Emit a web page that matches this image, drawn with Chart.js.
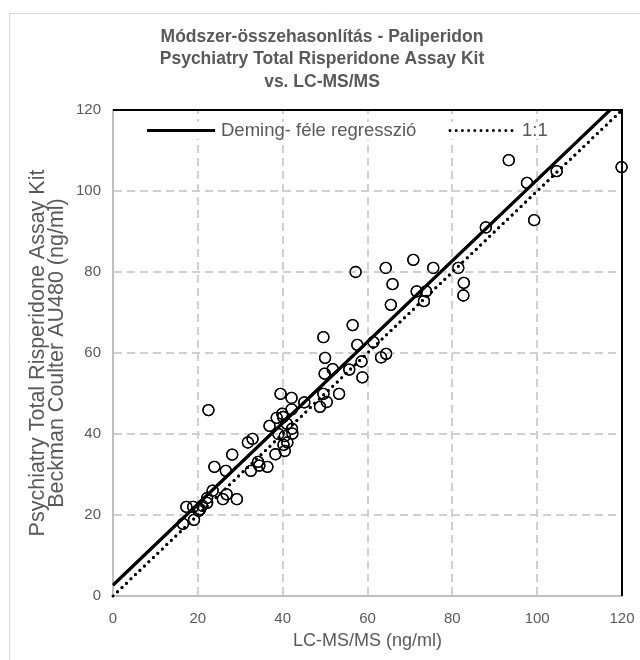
<!DOCTYPE html>
<html>
<head>
<meta charset="utf-8">
<script src="https://cdn.jsdelivr.net/npm/chart.js@4/dist/chart.umd.min.js"></script>
<style>
  html, body { margin: 0; padding: 0; background: #fff; }
  #wrap { width: 640px; height: 660px; position: relative; }
</style>
</head>
<body>
<div id="wrap"><canvas id="c" width="640" height="660"></canvas></div>
<script>
// ---- data ----
const lcms = [93.3,119.9,97.6,104.6,99.3,87.9,70.8,64.3,75.5,81.4,57.2,65.9,82.7,71.6,73.8,82.6,73.3,65.5,
  56.5,49.6,57.6,61.4,50.0,63.2,64.4,51.8,55.7,58.6,49.9,58.8,53.3,49.6,48.8,50.4,45.1,39.5,42.1,22.5,
  42.1,39.9,38.6,40.1,36.9,41.0,42.2,39.0,42.3,40.5,41.1,40.2,38.3,40.5,32.9,31.8,28.1,34.2,34.5,36.4,
  32.5,23.9,26.6,23.5,26.8,25.9,29.2,22.2,22.2,17.3,18.9,20.5,20.2,19.1,16.5,21.0];
const kit = [107.6,105.9,102.0,104.9,92.8,91.0,83.0,81.0,81.0,81.0,80.0,77.0,77.3,75.2,75.2,74.2,72.8,71.9,
  66.9,63.9,62.0,62.7,58.8,58.9,59.8,56.0,55.9,57.9,54.9,54.0,49.9,49.9,46.7,47.9,47.8,49.9,48.9,45.9,
  46.1,45.0,44.0,44.2,42.0,42.5,41.3,40.0,40.1,39.5,37.9,37.3,35.0,35.8,38.8,37.9,34.9,33.1,32.2,31.9,
  30.9,31.9,30.9,26.0,25.1,23.9,23.9,24.2,23.0,22.0,22.0,21.4,21.0,18.8,17.8,22.3];
const demingX = [0, 117.2];
const demingY = [2.7, 120];
const identityX = [0, 120];
const identityY = [0, 120];
const axisTicks = [0, 20, 40, 60, 80, 100, 120];
const titleLines = ['Módszer-összehasonlítás - Paliperidon', 'Psychiatry Total Risperidone Assay Kit', 'vs. LC-MS/MS'];
const yTitleLines = ['Psychiatry Total Risperidone Assay Kit', 'Beckman Coulter AU480 (ng/ml)'];
const xTitle = 'LC-MS/MS (ng/ml)';
const legendLabels = ['Deming- féle regresszió', '1:1'];

const FONT = "'Liberation Sans', Arial, sans-serif";
const GREY = '#595959';

const pts = lcms.map((x, i) => ({x: x, y: kit[i]}));
const demingPts = demingX.map((x, i) => ({x: x, y: demingY[i]}));
const idPts = identityX.map((x, i) => ({x: x, y: identityY[i]}));

function drawGridLines(chart) {
  const ctx = chart.ctx;
  const a = chart.chartArea;
  const xs = chart.scales.x, ys = chart.scales.y;
  ctx.save();
  ctx.globalCompositeOperation = 'source-over';
  ctx.globalAlpha = 1;
  ctx.strokeStyle = '#d0d0d0';
  ctx.lineWidth = 2;
  ctx.lineCap = 'butt';
  ctx.setLineDash([8, 5]);
  for (const v of axisTicks) {
    if (v <= 0 || v >= 120) continue;
    const px = Math.round(xs.getPixelForValue(v));
    ctx.beginPath(); ctx.moveTo(px, a.bottom - 1); ctx.lineTo(px, a.top + 1); ctx.stroke();
    const py = Math.round(ys.getPixelForValue(v));
    ctx.beginPath(); ctx.moveTo(a.left + 1, py); ctx.lineTo(a.right - 1, py); ctx.stroke();
  }
  ctx.restore();
}

// redraw the datasets through their own controllers so they sit above the grid
function redrawDatasets(chart) {
  const metas = chart.getSortedVisibleDatasetMetas();
  for (let i = metas.length - 1; i >= 0; --i) {
    chart.ctx.save();
    metas[i].controller.draw();
    chart.ctx.restore();
  }
}

function drawLegend(chart) {
  const ctx = chart.ctx;
  const ly = 130.5;
  ctx.save();
  ctx.fillStyle = '#fff';
  ctx.fillRect(140, 122, 420, 17);
  ctx.strokeStyle = '#000';
  ctx.lineWidth = 3;
  ctx.beginPath(); ctx.moveTo(147, ly); ctx.lineTo(215, ly); ctx.stroke();
  ctx.setLineDash([0, 6.2]);
  ctx.lineCap = 'round';
  ctx.beginPath(); ctx.moveTo(450, ly); ctx.lineTo(512, ly); ctx.stroke();
  ctx.setLineDash([]);
  ctx.fillStyle = GREY;
  ctx.font = "18.5px " + FONT;
  ctx.textBaseline = 'middle';
  ctx.textAlign = 'left';
  ctx.fillText(legendLabels[0], 221, ly);
  ctx.fillText(legendLabels[1], 522, ly);
  ctx.restore();
}

const framePlugin = {
  id: 'frame',
  beforeDraw(chart) {
    const ctx = chart.ctx;
    ctx.save();
    ctx.fillStyle = '#fff';
    ctx.fillRect(0, 0, chart.width, chart.height);
    ctx.strokeStyle = '#d9d9d9';
    ctx.lineWidth = 1;
    ctx.beginPath();
    ctx.moveTo(9.5, 700); ctx.lineTo(9.5, 13.5); ctx.lineTo(700, 13.5);
    ctx.stroke();
    ctx.fillStyle = GREY;
    ctx.font = "bold 17.5px " + FONT;
    ctx.textAlign = 'center';
    ctx.textBaseline = 'middle';
    titleLines.forEach((t, i) => ctx.fillText(t, 322, 37 + i * 22.5));
    ctx.restore();
  },
  beforeDatasetsDraw(chart) {
    const ctx = chart.ctx;
    const a = chart.chartArea;
    ctx.save();
    ctx.strokeStyle = '#000';
    ctx.lineWidth = 2;
    ctx.beginPath();
    ctx.moveTo(a.left, a.top); ctx.lineTo(a.right, a.top); ctx.lineTo(a.right, a.bottom);
    ctx.stroke();
    ctx.restore();
  },
  afterDraw(chart) {
    drawGridLines(chart);
    redrawDatasets(chart);
    drawLegend(chart);
  }
};

new Chart(document.getElementById('c'), {
  type: 'scatter',
  data: {
    datasets: [
      {
        label: 'data', data: pts, showLine: false, clip: false,
        pointStyle: 'circle', pointRadius: 5.5, pointHoverRadius: 5.5,
        pointBorderColor: '#000', pointBackgroundColor: 'rgba(0,0,0,0)', pointBorderWidth: 1.3,
        order: 3
      },
      {
        label: legendLabels[0], data: demingPts, showLine: true, pointRadius: 0,
        borderColor: '#000', borderWidth: 3, fill: false, order: 2
      },
      {
        label: legendLabels[1], data: idPts, showLine: true, pointRadius: 0,
        borderColor: '#000', borderWidth: 3, borderDash: [0, 6.2], borderCapStyle: 'round', fill: false, order: 1
      }
    ]
  },
  options: {
    responsive: false,
    animation: false,
    events: [],
    layout: { padding: { left: 0, right: 18, top: 110, bottom: 0 } },
    plugins: {
      legend: { display: false },
      tooltip: { enabled: false },
      title: { display: false }
    },
    scales: {
      x: {
        type: 'linear', min: 0, max: 120,
        afterFit(s) { s.height = 64; s.paddingRight = 0; s.paddingLeft = 0; },
        afterBuildTicks(s) { s.ticks = axisTicks.map(v => ({value: v})); },
        ticks: { color: GREY, font: { family: FONT, size: 15 }, padding: 14 },
        grid: { display: false, drawTicks: false },
        border: { display: true, color: '#bfbfbf', width: 2 },
        title: {
          display: true, text: xTitle, color: GREY,
          font: { family: FONT, size: 18, lineHeight: '19px' },
          padding: { top: 0, bottom: 9.5 }
        }
      },
      y: {
        type: 'linear', min: 0, max: 120,
        afterFit(s) { s.width = 113; },
        afterBuildTicks(s) { s.ticks = axisTicks.map(v => ({value: v})); },
        ticks: { color: GREY, font: { family: FONT, size: 15 }, padding: 12 },
        grid: { display: false, drawTicks: false },
        border: { display: true, color: '#bfbfbf', width: 2 },
        title: {
          display: true, text: yTitleLines, color: GREY,
          font: { family: FONT, size: 21.5, lineHeight: '19px' },
          padding: { top: 28.5, bottom: 0 }
        }
      }
    }
  },
  plugins: [framePlugin]
});
</script>
</body>
</html>
